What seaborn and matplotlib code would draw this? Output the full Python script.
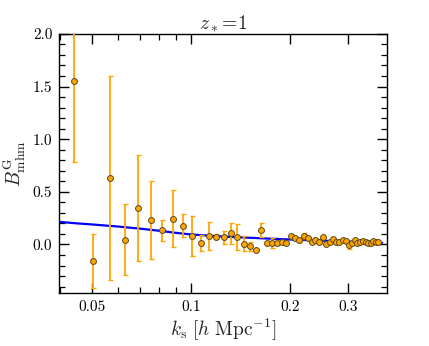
import numpy as np
import pandas as pd
import matplotlib
matplotlib.use("Agg")
import matplotlib.pyplot as plt
from matplotlib.ticker import FixedLocator, FixedFormatter, MultipleLocator
import seaborn as sns

# measured points (k in h/Mpc)
k_data = [0.0440, 0.0503, 0.0565, 0.0628, 0.0691, 0.0754, 0.0817, 0.0880, 0.0942,
          0.1005, 0.1068, 0.1131, 0.1194, 0.1257, 0.1319, 0.1382, 0.1445, 0.1508,
          0.1571, 0.1634, 0.1696, 0.1759, 0.1822, 0.1885, 0.1948, 0.2011, 0.2073,
          0.2136, 0.2199, 0.2262, 0.2325, 0.2388, 0.2450, 0.2513, 0.2576, 0.2639,
          0.2702, 0.2765, 0.2827, 0.2890, 0.2953, 0.3016, 0.3079, 0.3142, 0.3204,
          0.3267, 0.3330, 0.3393, 0.3456, 0.3519, 0.3581, 0.3644, 0.3707]
b_data = [1.55, -0.155, 0.63, 0.045, 0.345, 0.23, 0.133, 0.245, 0.18,
          0.085, 0.012, 0.08, 0.075, 0.07, 0.105, 0.07, 0.006, -0.016,
          -0.048, 0.136, 0.012, 0.012, 0.015, 0.025, 0.01, 0.082, 0.057,
          0.041, 0.079, 0.057, 0.02, 0.038, 0.019, 0.067, 0.008, 0.027,
          0.049, 0.027, 0.025, 0.039, 0.031, -0.007, 0.017, 0.038, 0.017,
          0.027, 0.034, 0.022, 0.015, 0.015, 0.031, 0.022, 0.025]
b_err = [0.77, 0.255, 0.97, 0.335, 0.50, 0.37, 0.10, 0.27, 0.11,
         0.19, 0.077, 0.135, 0.02, 0.062, 0.097, 0.125, 0.072, 0.042,
         0.005, 0.066, 0.02, 0.045, 0.02, 0.015, 0.01, 0.015, 0.01,
         0.02, 0.03, 0.015, 0.01, 0.025, 0.01, 0.01, 0.01, 0.01,
         0.01, 0.01, 0.01, 0.01, 0.01, 0.04, 0.01, 0.01, 0.01,
         0.01, 0.01, 0.01, 0.01, 0.01, 0.01, 0.01, 0.01]

# model curve
k_model = [0.0397, 0.045, 0.05, 0.06, 0.07, 0.08, 0.09, 0.10, 0.12, 0.14,
           0.16, 0.18, 0.20, 0.25, 0.30, 0.34, 0.381]
b_model = [0.215, 0.20, 0.19, 0.17, 0.15, 0.13, 0.11, 0.095, 0.078, 0.068,
           0.060, 0.053, 0.047, 0.036, 0.027, 0.020, 0.015]

x_ticks = [0.05, 0.1, 0.2, 0.3]
x_tick_labels = ["0.05", "0.1", "0.2", "0.3"]
x_minor = [0.04, 0.06, 0.07, 0.08, 0.09]

sns.set_theme(style="ticks")
plt.rcParams.update({
    "font.family": "serif",
    "font.serif": ["cmr10", "DejaVu Serif"],
    "mathtext.fontset": "cm",
    "axes.formatter.use_mathtext": True,
    "axes.linewidth": 1.0,
    "axes.edgecolor": "black",
})

df = pd.DataFrame({"k": k_data, "B": b_data, "err": b_err})
model = pd.DataFrame({"k": k_model, "B": b_model})

fig = plt.figure(figsize=(4.29, 3.46), dpi=100)
ax = fig.add_axes([0.138, 0.152, 0.763, 0.750])

sns.lineplot(data=model, x="k", y="B", ax=ax, color="blue", lw=1.6, zorder=2)
ax.errorbar(df["k"], df["B"], yerr=df["err"], fmt="none", ecolor="orange",
            elinewidth=1.3, capsize=1.8, capthick=1.0, zorder=3)
sns.scatterplot(data=df, x="k", y="B", ax=ax, color="orange", s=18,
                edgecolor="#5a4a1a", linewidth=0.7, zorder=4)

ax.set_xscale("log")
ax.set_xlim(0.0397, 0.393)
ax.set_ylim(-0.465, 2.0)

ax.xaxis.set_major_locator(FixedLocator(x_ticks))
ax.xaxis.set_major_formatter(FixedFormatter(x_tick_labels))
ax.xaxis.set_minor_locator(FixedLocator(x_minor))
ax.xaxis.set_minor_formatter(FixedFormatter([]))
ax.yaxis.set_major_locator(MultipleLocator(0.5))
ax.yaxis.set_minor_locator(MultipleLocator(0.1))
ax.yaxis.set_major_formatter(plt.FuncFormatter(lambda v, p: f"{v:.1f}"))

ax.tick_params(which="both", direction="in", top=True, right=True,
               labelsize=11, colors="black", pad=5)
ax.tick_params(which="major", length=7, width=1.0)
ax.tick_params(which="minor", length=4, width=0.9)

ax.set_xlabel(r"$k_{\rm s}\ [h\ {\rm Mpc}^{-1}]$", fontsize=14, labelpad=2)
ax.set_ylabel(r"$B^{\rm G}_{\rm mhm}$", fontsize=14, labelpad=3)
ax.set_title(r"$z_*\!=\!1$", fontsize=14, pad=3)

fig.savefig("out.png", dpi=100)
